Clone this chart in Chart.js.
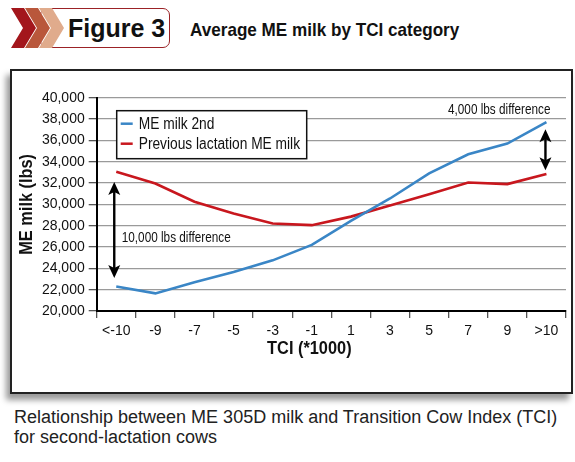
<!DOCTYPE html>
<html><head><meta charset="utf-8">
<script src="https://cdn.jsdelivr.net/npm/chart.js@4/dist/chart.umd.min.js"></script>
<style>
html,body{margin:0;padding:0;background:#fff;width:575px;height:462px;overflow:hidden;position:relative;}
#frame{position:absolute;left:10px;top:69px;width:559px;height:321px;border:2px solid #222;background:#fff;box-shadow:-4px 6px 6px #9a9a9a;}
#figbox{position:absolute;left:40px;top:8px;width:128px;height:38px;border:1.6px solid #9b2226;border-radius:7px;background:#fff;}
#figtxt{position:absolute;left:68px;top:13px;font:bold 25px "Liberation Sans",Arial,sans-serif;color:#111;line-height:30px;}
#title{position:absolute;left:190px;top:18px;font:bold 19px "Liberation Sans",Arial,sans-serif;color:#111;line-height:24px;transform:scaleX(0.9);transform-origin:0 50%;white-space:nowrap;}
#chev{position:absolute;left:0;top:0;}
#caption{position:absolute;left:14px;top:407px;font:18px "Liberation Sans",Arial,sans-serif;color:#222;line-height:20px;white-space:nowrap;}
#c{position:absolute;left:0;top:0;}
</style></head>
<body>
<div id="frame"></div>
<div id="figbox"></div>
<svg id="chev" width="80" height="56">
<polygon points="11,8 24,8 36,28 24,48 11,48 23,28" fill="#a3161c"/>
<polygon points="25,8 38,8 50,28 38,48 25,48 37,28" fill="#b9573b"/>
<polygon points="39,8 52,8 64,28 52,48 39,48 51,28" fill="#e0ab8c"/>
</svg>
<div id="figtxt">Figure 3</div>
<div id="title">Average ME milk by TCI category</div>
<div id="caption">Relationship between ME 305D milk and Transition Cow Index (TCI)<br>for second-lactation cows</div>
<canvas id="c" width="575" height="462"></canvas>
<script>
const categories = ['<-10','-9','-7','-5','-3','-1','1','3','5','7','9','>10'];
const meMilk2nd = [22300, 21650, 22700, 23650, 24750, 26200, 28450, 30550, 32900, 34700, 35700, 37700];
const previousLactation = [33050, 31950, 30250, 29150, 28200, 28050, 28850, 29900, 30950, 32050, 31900, 32850];
const seriesNames = ['ME milk 2nd', 'Previous lactation ME milk'];
const yTicks = [20000, 22000, 24000, 26000, 28000, 30000, 32000, 34000, 36000, 38000, 40000];
const xTitle = 'TCI (*1000)';
const yTitle = 'ME milk (lbs)';
// annotation arrows: [category index, from value, to value]
const diffArrows = [[0, 32100, 23100], [11, 37050, 33200]];
const diffLabels = ['10,000 lbs difference', '4,000 lbs difference'];

const BLUE = '#3a86c6', RED = '#c8171e';
const FONT = '"Liberation Sans",Arial,sans-serif';

function ctext(ctx, text, x, y, sx, align) {
  ctx.save();
  ctx.translate(x, y);
  ctx.scale(sx, 1);
  ctx.textAlign = align;
  ctx.fillText(text, 0, 0);
  ctx.restore();
}

function arrowHead(ctx, x, y, dir) {
  ctx.beginPath();
  ctx.moveTo(x, y);
  ctx.lineTo(x - 6, y + dir * 13);
  ctx.lineTo(x, y + dir * 10);
  ctx.lineTo(x + 6, y + dir * 13);
  ctx.closePath();
  ctx.fill();
}

const overlay = {
  id: 'overlay',
  afterDatasetsDraw(chart) {
    const ctx = chart.ctx, ca = chart.chartArea;
    const xs = chart.scales.x, ys = chart.scales.y;
    ctx.save();
    // arrows
    ctx.strokeStyle = '#000'; ctx.fillStyle = '#000'; ctx.lineWidth = 2.4;
    diffArrows.forEach((a, i) => {
      const x = xs.getPixelForValue(a[0]) + (i === 0 ? -2 : -1);
      const y1 = ys.getPixelForValue(a[1]), y2 = ys.getPixelForValue(a[2]);
      ctx.beginPath(); ctx.moveTo(x, y1 + 8); ctx.lineTo(x, y2 - 8); ctx.stroke();
      arrowHead(ctx, x, y1, 1);
      arrowHead(ctx, x, y2, -1);
    });
    ctx.font = '14px ' + FONT;
    ctx.textBaseline = 'middle';
    ctx.fillStyle = '#111';
    ctext(ctx, diffLabels[0], xs.getPixelForValue(0) + 5.5, ys.getPixelForValue(26870), 0.84, 'left');
    ctext(ctx, diffLabels[1], xs.getPixelForValue(11) + 4, ys.getPixelForValue(38840), 0.84, 'right');
    // legend
    const lx = ca.left + 20, ly = ca.top + 13, lw = 190, lh = 48;
    ctx.fillStyle = '#fff';
    ctx.fillRect(lx, ly, lw, lh);
    ctx.strokeStyle = '#111'; ctx.lineWidth = 1.5;
    ctx.strokeRect(lx, ly, lw, lh);
    ctx.font = '16px ' + FONT;
    [BLUE, RED].forEach((c, i) => {
      const yy = ly + 13 + i * 20;
      ctx.strokeStyle = c; ctx.lineWidth = 2.5;
      ctx.beginPath(); ctx.moveTo(lx + 4, yy); ctx.lineTo(lx + 16, yy); ctx.stroke();
      ctx.fillStyle = '#111';
      ctext(ctx, seriesNames[i], lx + 22, yy + 1, 0.86, 'left');
    });
    // axis titles
    ctx.fillStyle = '#111';
    ctx.font = 'bold 19px ' + FONT;
    ctext(ctx, xTitle, (ca.left + ca.right) / 2 - 22, 349, 0.86, 'center');
    ctx.save();
    ctx.translate(27, (ca.top + ca.bottom) / 2);
    ctx.rotate(-Math.PI / 2);
    ctext(ctx, yTitle, 0, 0, 0.86, 'center');
    ctx.restore();
    ctx.restore();
  }
};

new Chart(document.getElementById('c'), {
  type: 'line',
  data: {
    labels: categories,
    datasets: [
      {label: seriesNames[0], data: meMilk2nd, borderColor: BLUE, borderWidth: 2.6, pointRadius: 0, tension: 0, fill: false},
      {label: seriesNames[1], data: previousLactation, borderColor: RED, borderWidth: 2.6, pointRadius: 0, tension: 0, fill: false}
    ]
  },
  options: {
    responsive: false,
    animation: false,
    devicePixelRatio: 1,
    layout: {padding: {left: 0, right: 9, top: 97.7, bottom: 0}},
    plugins: {legend: {display: false}, tooltip: {enabled: false}, title: {display: false}},
    scales: {
      x: {
        type: 'category',
        offset: true,
        grid: {offset: true, drawOnChartArea: false, tickLength: 7, tickColor: '#555', lineWidth: 1.3},
        border: {display: true, color: '#000', width: 2},
        ticks: {color: '#111', font: {family: FONT, size: 14}, padding: 5, maxRotation: 0, autoSkip: false},
        afterFit(s) { s.height = 151; }
      },
      y: {
        min: 20000, max: 40000,
        afterBuildTicks(s) { s.ticks = yTicks.map(v => ({value: v})); },
        grid: {color: '#9a9a9a', lineWidth: 1.3, tickLength: 8, tickColor: '#555'},
        border: {display: true, color: '#000', width: 2},
        ticks: {color: '#111', font: {family: FONT, size: 14}, padding: 4,
                callback: v => v.toLocaleString('en-US')},
        afterFit(s) { s.width = 96.7; }
      }
    }
  },
  plugins: [overlay]
});
</script>
</body></html>
